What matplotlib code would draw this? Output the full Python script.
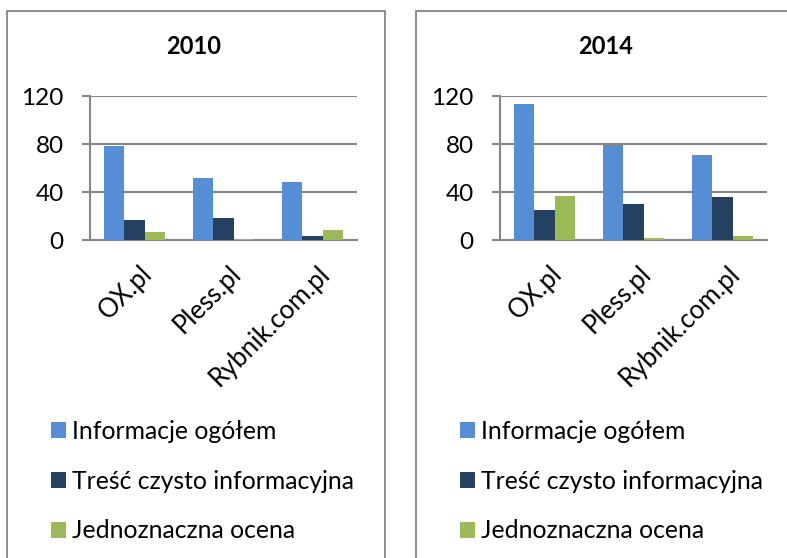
import numpy as np
import matplotlib.pyplot as plt
from matplotlib.patches import Rectangle
from matplotlib.transforms import ScaledTranslation

plt.rcParams['font.family'] = ['Lato', 'DejaVu Sans']

sites = ['OX.pl', 'Pless.pl', 'Rybnik.com.pl']
series = ['Informacje ogółem', 'Treść czysto informacyjna', 'Jednoznaczna ocena']
colors = ['#558ed5', '#254061', '#9bbb59']
years = ['2010', '2014']
v2010 = [[78, 52, 48], [17, 18, 3], [7, 0.7, 8]]
v2014 = [[113, 79, 71], [25, 30, 36], [37, 1.5, 3]]

W, H = 787, 558
fig = plt.figure(figsize=(W / 100, H / 100), dpi=100)

def px(x0, y0, x1, y1):
    # pixel box (top-left origin) -> figure fraction
    return [x0 / W, 1 - y1 / H, (x1 - x0) / W, (y1 - y0) / H]

grid_c = '#868686'
panels = [(7, 385, 90, 357, 194, v2010), (416, 800, 500, 767, 606, v2014)]

for (fx0, fx1, ax0, ax1, tx, vals), year in zip(panels, years):
    fig.add_artist(Rectangle((fx0 / W, -0.1), (fx1 - fx0) / W, (1 - 11 / H) + 0.1,
                             transform=fig.transFigure, fill=False,
                             edgecolor=grid_c, lw=1.3))
    fig.text(tx / W, 1 - 46 / H, year, ha='center', va='center',
             fontsize=17, fontweight='bold')

    ax = fig.add_axes(px(ax0, 96, ax1, 240))
    x = np.arange(len(sites))
    w = 0.225
    handles = []
    for i, (s, c) in enumerate(zip(series, colors)):
        b = ax.bar(x + (i - 1) * w, vals[i], w, color=c, label=s, zorder=3)
        handles.append(b)
    ax.set_xlim(-0.5, 2.5)
    ax.set_ylim(0, 120)
    ax.set_yticks([0, 40, 80, 120])
    ax.yaxis.grid(True, color=grid_c, lw=1.5, zorder=0)
    ax.tick_params(axis='y', length=6, width=1.5, color=grid_c, labelsize=17.5, pad=13)
    ax.tick_params(axis='x', length=0, labelsize=18.5, pad=15)
    ax.set_xticks(x)
    ax.set_xticklabels(sites, rotation=45, ha='right', va='top', rotation_mode='anchor')
    for lab in ax.get_xticklabels():
        lab.set_fontsize(18.5)
        lab.set_transform(lab.get_transform() + ScaledTranslation(0.05, 0, fig.dpi_scale_trans))
    for sp in ['top', 'right']:
        ax.spines[sp].set_visible(False)
    ax.spines['left'].set_color(grid_c)
    ax.spines['left'].set_linewidth(1.5)
    ax.spines['bottom'].set_color(grid_c)
    ax.spines['bottom'].set_linewidth(1.5)

    fig.legend(handles=handles, labels=series, loc='upper left',
               bbox_to_anchor=((fx0 + 44) / W, 1 - 420 / H), frameon=False,
               fontsize=17.8, handlelength=0.62, handleheight=0.62,
               handletextpad=0.24, labelspacing=1.08, borderpad=0,
               borderaxespad=0)

fig.savefig('out.png', dpi=100)
